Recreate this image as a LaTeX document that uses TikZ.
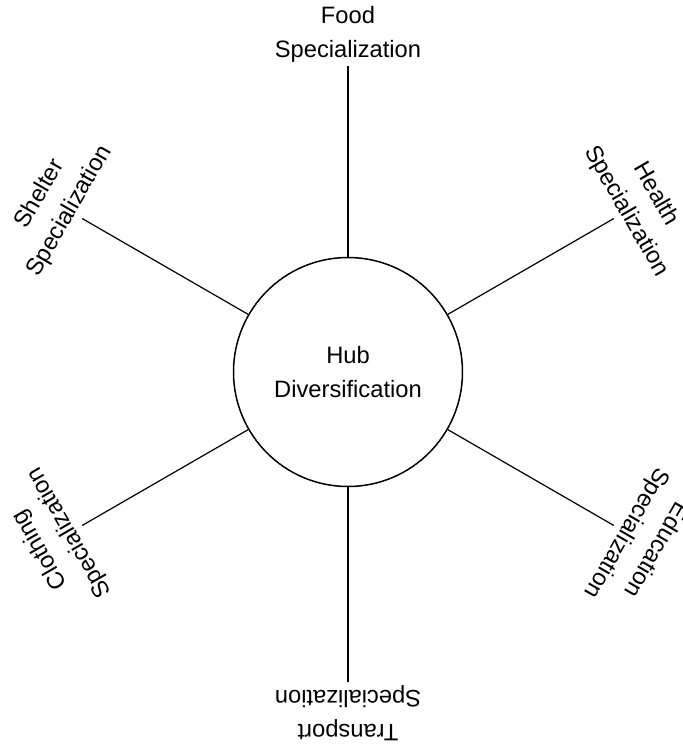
\documentclass[tikz,border=0pt]{standalone}
\usepackage{fontspec}
\setmainfont{Liberation Sans}
\usetikzlibrary{positioning}

\begin{document}
\begin{tikzpicture} % hub in the middle, six spokes round it
\tikzset{hubnode/.style={draw,circle,line width=1.5pt,minimum size=229pt,inner sep=0pt,align=center}} % the centre circle
\tikzset{spec/.style={align=center,anchor=south,inner sep=3pt}} % labels at the outer end of each spoke
\tikzset{spoke/.style={line width=1.2pt}}
\fontsize{23.7}{34}\selectfont
\useasboundingbox (-348pt,-373pt) rectangle (335pt,372pt);
\node[hubnode] (hub) at (0,0) {Hub\\Diversification};
\node[spec,rotate=0] (food) at (90:306pt) {Food\\Specialization};
\node[spec,rotate=-60] (health) at (30:307pt) {Health\\Specialization};
\node[spec,rotate=-120] (education) at (-30:307pt) {Education\\Specialization};
\node[spec,rotate=180] (transport) at (-90:310pt) {Transport\\Specialization};
\node[spec,rotate=120] (clothing) at (210:307pt) {Clothing\\Specialization};
\node[spec,rotate=60] (shelter) at (150:307pt) {Shelter\\Specialization};
\draw[spoke] (hub) -- (food.south);
\draw[spoke] (hub) -- (health.south);
\draw[spoke] (hub) -- (education.south);
\draw[spoke] (hub) -- (transport.south);
\draw[spoke] (hub) -- (clothing.south);
\draw[spoke] (hub) -- (shelter.south);
\end{tikzpicture}
\end{document}
